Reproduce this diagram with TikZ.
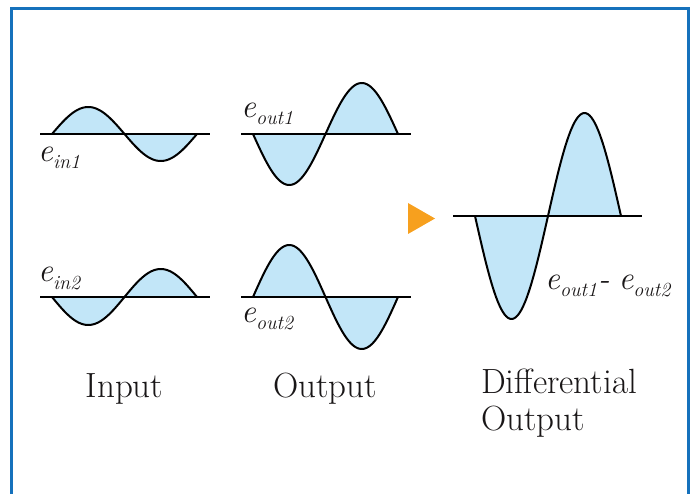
\documentclass[tikz,border=0pt]{standalone}
\usepackage{xcolor}
\usepackage{tikz}
\usetikzlibrary{calc}
\definecolor{frameblue}{RGB}{21,113,188}
\definecolor{wavefill}{RGB}{194,230,248}
\definecolor{markorange}{RGB}{247,160,30}
\definecolor{inkgray}{RGB}{25,22,23}
\newcommand{\esub}[1]{\raisebox{-7pt}{\fontsize{20}{20}\selectfont #1}}
\tikzset{
    waveline/.style={line width=2pt, line join=round, draw=black},
    axisline/.style={line width=2.4pt, draw=black},
    elabel/.style={font=\fontsize{33}{36}\selectfont\itshape, text=inkgray, inner sep=0pt, anchor=base west},
    caption/.style={font=\fontsize{35}{37}\selectfont, text=inkgray, inner sep=0pt}
}

\begin{document}
\begin{tikzpicture}[x=1pt, y=-1pt]

    \useasboundingbox (0,0) rectangle (693,494);

    % Frame (open at the bottom)
    \draw [frameblue, line width=3pt] (11.5,500) -- (11.5,8.7) -- (688,8.7) -- (688,500);

    % Waves: start x / axis y / amplitude / half period / axis left / axis right
    \foreach \xo/\yo/\amp/\h/\al/\ar in {52/134/27/72.5/40/210,
                                        253/134/-51/72.5/241/411,
                                        52/297/-28/72.5/40/210,
                                        253/297/52/72.5/241/411,
                                        475/216/-103/73/453/642} {
        \fill [wavefill] plot[domain=0:360, samples=90, smooth] ({\xo+\x/180*\h},{\yo-\amp*sin(\x)}) -- cycle;
        \draw [waveline] plot[domain=0:360, samples=90, smooth] ({\xo+\x/180*\h},{\yo-\amp*sin(\x)});
        \draw [axisline] (\al,\yo) -- (\ar,\yo);
    }

    % Orange marker
    \fill [markorange] (408,203) -- (435,218.5) -- (408,234) -- cycle;

    % Wave labels
    \node (ein1) [elabel] at (38,162) {e\esub{in1}};
    \node (eout1) [elabel] at (241,118) {e\esub{out1}};
    \node (ein2) [elabel] at (38,282) {e\esub{in2}};
    \node (eout2) [elabel] at (241,322) {e\esub{out2}};
    \node (ediff) [elabel] at (545,290) {e\esub{out1}\kern1pt-\kern9pt e\esub{out2}};

    % Captions
    \node (input) [caption, anchor=base] at (124.5,397) {Input};
    \node (output) [caption, anchor=base] at (325,397) {Output};
    \node (diffout) [caption, anchor=north west, align=left] at (481,369) {Differential\\Output};

\end{tikzpicture}
\end{document}
